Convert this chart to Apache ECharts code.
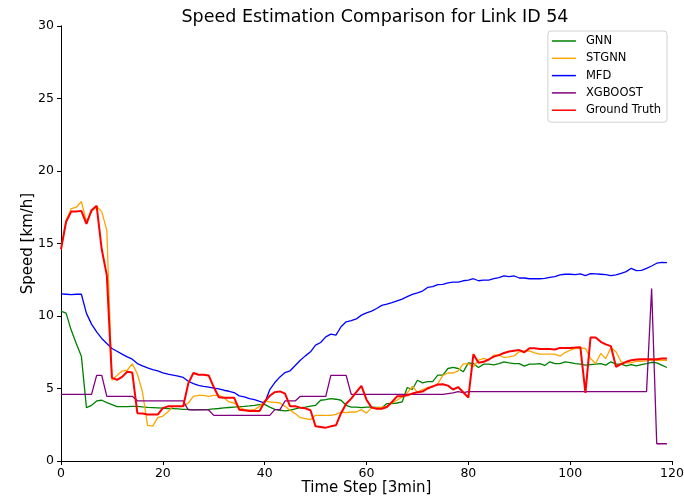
<!DOCTYPE html>
<html><head><meta charset="utf-8">
<script src="https://cdn.jsdelivr.net/npm/echarts@6/dist/echarts.min.js"></script>
<style>html,body{margin:0;padding:0;background:#fff}#c{width:684px;height:497px}</style>
</head><body><div id="c"></div>
<script>
const steps = Array.from({length:120},(_,i)=>i);
const gnn = [
 10.34,10.2,9.03,8.1,7.23,3.68,3.84,4.14,4.19,4.03,
 3.89,3.75,3.75,3.75,3.77,3.77,3.73,3.7,3.68,3.66,
 3.64,3.61,3.61,3.59,3.56,3.56,3.52,3.54,3.54,3.56,
 3.59,3.62,3.66,3.69,3.72,3.75,3.77,3.8,3.84,3.89,
 3.91,3.72,3.56,3.5,3.45,3.5,3.59,3.68,3.72,3.79,
 3.84,4.19,4.23,4.3,4.26,4.19,3.84,3.72,3.72,3.68,
 3.72,3.72,3.7,3.68,3.96,3.96,4.0,4.07,5.07,4.93,
 5.57,5.39,5.48,5.48,5.92,5.92,6.38,6.45,6.38,6.15,
 6.77,6.72,6.45,6.68,6.68,6.63,6.72,6.84,6.77,6.72,
 6.72,6.54,6.68,6.68,6.72,6.59,6.84,6.72,6.72,6.84,
 6.79,6.72,6.68,6.61,6.65,6.68,6.72,6.61,6.84,6.68,
 6.68,6.56,6.65,6.56,6.65,6.72,6.81,6.77,6.61,6.45];
const stgnn = [
 14.6,16.6,17.4,17.5,17.9,16.5,17.2,17.55,17.2,15.9,
 5.57,5.9,6.2,6.26,6.7,6.0,4.76,2.46,2.41,2.99,
 3.1,3.38,3.77,3.77,3.77,4.0,4.46,4.53,4.53,4.46,
 4.53,4.53,4.37,4.07,4.0,3.72,3.54,3.5,3.54,3.77,
 4.14,4.07,4.05,4.0,3.77,3.5,3.27,2.99,2.92,2.85,
 3.15,3.15,3.15,3.15,3.22,3.38,3.33,3.38,3.38,3.54,
 3.3,3.68,3.68,3.72,3.77,4.0,4.19,4.42,4.7,5.15,
 4.74,4.93,5.07,5.1,5.34,5.9,6.07,6.07,6.22,6.7,
 6.7,6.5,6.95,7.07,6.95,7.3,7.3,7.14,7.18,7.25,
 7.53,7.57,7.6,7.46,7.37,7.37,7.37,7.37,7.23,7.48,
 7.64,7.76,7.8,7.76,7.07,6.72,7.41,7.07,7.83,7.53,
 6.84,6.77,6.77,6.88,6.88,6.9,6.95,6.95,6.95,6.95];
const mfd = [
 11.53,11.5,11.47,11.5,11.5,10.18,9.44,8.9,8.45,8.1,
 7.76,7.57,7.37,7.18,7.02,6.72,6.56,6.42,6.3,6.22,
 6.08,5.99,5.92,5.85,5.76,5.5,5.34,5.22,5.15,5.1,
 5.03,4.97,4.88,4.81,4.72,4.49,4.42,4.3,4.23,4.12,
 4.0,4.92,5.41,5.8,6.1,6.22,6.59,6.95,7.25,7.53,
 7.99,8.17,8.56,8.75,8.68,9.26,9.6,9.68,9.8,10.06,
 10.22,10.34,10.52,10.73,10.82,10.92,11.05,11.17,11.33,11.49,
 11.6,11.72,11.97,12.02,12.16,12.18,12.29,12.34,12.34,12.43,
 12.48,12.57,12.43,12.48,12.48,12.57,12.64,12.76,12.71,12.76,
 12.62,12.62,12.57,12.57,12.57,12.6,12.67,12.71,12.83,12.88,
 12.88,12.85,12.9,12.78,12.92,12.9,12.88,12.85,12.78,12.83,
 12.94,13.06,13.29,13.13,13.15,13.29,13.45,13.64,13.7,13.68];
const xgboost = [
 4.6,4.6,4.6,4.6,4.6,4.6,4.6,5.9,5.9,4.46,
 4.46,4.46,4.46,4.46,4.46,4.15,4.15,4.15,4.15,4.15,
 4.15,4.15,4.15,4.15,4.15,3.52,3.52,3.52,3.52,3.52,
 3.15,3.15,3.15,3.15,3.15,3.15,3.15,3.15,3.15,3.15,
 3.15,3.15,3.54,3.54,4.14,4.14,4.14,4.46,4.46,4.46,
 4.46,4.46,4.46,5.9,5.9,5.9,5.9,4.6,4.6,4.6,
 4.6,4.6,4.6,4.6,4.6,4.6,4.6,4.6,4.6,4.6,
 4.6,4.6,4.6,4.6,4.6,4.6,4.65,4.7,4.78,4.72,
 4.78,4.78,4.78,4.78,4.78,4.78,4.78,4.78,4.78,4.78,
 4.78,4.78,4.78,4.78,4.78,4.78,4.78,4.78,4.78,4.78,
 4.78,4.78,4.78,4.78,4.78,4.78,4.78,4.78,4.78,4.78,
 4.78,4.78,4.78,4.78,4.78,4.78,11.9,1.19,1.19,1.19];
const groundTruth = [
 14.6,16.5,17.2,17.2,17.25,16.35,17.3,17.6,14.6,12.8,
 5.75,5.6,5.8,6.15,6.1,3.3,3.27,3.2,3.2,3.2,
 3.65,3.77,3.77,3.77,3.77,5.35,6.07,5.95,5.95,5.9,
 5.1,4.4,4.37,4.37,4.37,3.54,3.5,3.45,3.45,3.45,
 4.1,4.5,4.75,4.8,4.65,3.77,3.77,3.68,3.63,3.5,
 2.39,2.35,2.3,2.39,2.46,3.3,3.95,4.3,4.75,5.18,
 4.23,3.68,3.6,3.6,3.72,4.07,4.46,4.46,4.53,4.65,
 4.74,4.79,5.0,5.15,5.27,5.29,5.2,4.93,5.1,4.74,
 4.37,7.37,6.77,6.84,7.0,7.2,7.3,7.45,7.55,7.6,
 7.65,7.5,7.78,7.78,7.73,7.72,7.72,7.69,7.8,7.8,
 7.8,7.82,7.85,4.7,8.52,8.52,8.22,8.04,7.92,6.5,
 6.68,6.84,6.95,7.0,7.02,7.02,7.02,7.02,7.07,7.07];
const xTicks = [0,20,40,60,80,100,120];
const yTicks = [0,5,10,15,20,25,30];
const seriesNames = ['GNN','STGNN','MFD','XGBOOST','Ground Truth'];
const seriesColors = ['#008000','#FFA500','#0000FF','#800080','#FF0000'];
const seriesData = [gnn, stgnn, mfd, xgboost, groundTruth];
const seriesWidths = [1.3,1.3,1.3,1.3,2];

const font = 'DejaVu Sans';
const chart = echarts.init(document.getElementById('c'), null, {renderer:'canvas'});
chart.setOption({
  animation:false,
  backgroundColor:'#fff',
  title:{text:'Speed Estimation Comparison for Link ID 54', left:370, top:3, textAlign:'center',
    textStyle:{fontFamily:font, fontSize:17.5, fontWeight:'normal', color:'#000'}},
  grid:{left:61, right:12, top:26, bottom:36, outerBoundsMode:'none', containLabel:false},
  legend:{orient:'vertical', right:17, top:31, padding:[3,6,5,4], itemGap:3.3, itemWidth:24, itemHeight:1.5,
    icon:'rect',
    backgroundColor:'rgba(255,255,255,0.8)', borderColor:'#d0d0d0', borderWidth:1, borderRadius:3,
    textStyle:{fontFamily:font, fontSize:11.5, lineHeight:14, color:'#000', padding:[0,0,0,5]}, data:seriesNames},
  xAxis:[{type:'value', min:xTicks[0], max:xTicks[xTicks.length-1], interval:20,
    name:'Time Step [3min]', nameLocation:'middle', nameGap:19.5, nameMoveOverlap:false,
    nameTextStyle:{fontFamily:font, fontSize:15, color:'#000'},
    axisLine:{show:true, onZero:false, lineStyle:{color:'#000', width:1}},
    axisTick:{show:true, length:4, lineStyle:{color:'#000'}},
    axisLabel:{fontFamily:font, fontSize:12.5, color:'#000', margin:6},
    splitLine:{show:false}},
   {type:'value', position:'top', min:0, max:120, axisLine:{show:true, lineStyle:{color:'#000'}},
    axisTick:{show:false}, axisLabel:{show:false}, splitLine:{show:false}}],
  yAxis:[{type:'value', min:yTicks[0], max:yTicks[yTicks.length-1], interval:5,
    name:'Speed [km/h]', nameLocation:'middle', nameGap:25, nameMoveOverlap:false,
    nameTextStyle:{fontFamily:font, fontSize:15, color:'#000'},
    axisLine:{show:true, onZero:false, lineStyle:{color:'#000', width:1}},
    axisTick:{show:true, length:4, lineStyle:{color:'#000'}},
    axisLabel:{fontFamily:font, fontSize:12.5, color:'#000', margin:7},
    splitLine:{show:false}},
   {type:'value', position:'right', min:0, max:30, axisLine:{show:true, lineStyle:{color:'#000'}},
    axisTick:{show:false}, axisLabel:{show:false}, splitLine:{show:false}}],
  series: seriesNames.map((n,k)=>({
    name:n, type:'line', symbol:'none', showSymbol:false, xAxisIndex:0, yAxisIndex:0,
    data: steps.map((s,i)=>[s, seriesData[k][i]]),
    lineStyle:{color:seriesColors[k], width:seriesWidths[k]},
    itemStyle:{color:seriesColors[k]}, z: k===4?5:2
  }))
});
</script></body></html>
